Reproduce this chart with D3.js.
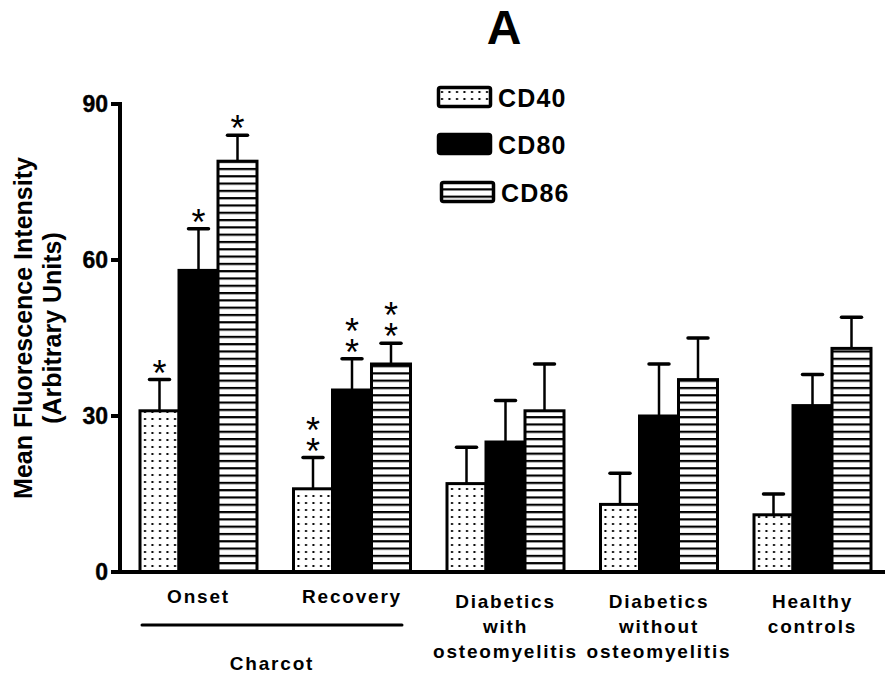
<!DOCTYPE html>
<html>
<head>
<meta charset="utf-8">
<script src="https://cdn.jsdelivr.net/npm/d3@7"></script>
<style>
  body { margin: 0; background: #fff; }
  text { font-family: "Liberation Sans", Arial, sans-serif; }
</style>
</head>
<body>
<div id="chart"></div>
<script>
// groups and their wrapped labels
const groups = ["Onset", "Recovery", "Diabetics with osteomyelitis", "Diabetics without osteomyelitis", "Healthy controls"];
const groupLabels = [["Onset"], ["Recovery"], ["Diabetics", "with", "osteomyelitis"], ["Diabetics", "without", "osteomyelitis"], ["Healthy", "controls"]];
const series = ["CD40", "CD80", "CD86"];

// mean values and upper error (SEM)
const cd40 = [31, 16, 17, 13, 11];
const cd80 = [58, 35, 25, 30, 32];
const cd86 = [79, 40, 31, 37, 43];
const cd40Err = [6, 6, 7, 6, 4];
const cd80Err = [8, 6, 8, 10, 6];
const cd86Err = [5, 4, 9, 8, 6];
// number of asterisks above each bar
const cd40Stars = [1, 2, 0, 0, 0];
const cd80Stars = [1, 2, 0, 0, 0];
const cd86Stars = [1, 2, 0, 0, 0];

const yTicks = [0, 30, 60, 90];

const values = { CD40: cd40, CD80: cd80, CD86: cd86 };
const errs = { CD40: cd40Err, CD80: cd80Err, CD86: cd86Err };
const stars = { CD40: cd40Stars, CD80: cd80Stars, CD86: cd86Stars };
const fills = { CD40: "url(#dots)", CD80: "#000", CD86: "url(#stripes)" };

const width = 885, height = 679;

const svg = d3.select("#chart").append("svg")
  .attr("width", width)
  .attr("height", height);

// patterns for the bar fills
const defs = svg.append("defs");
const dots = defs.append("pattern")
  .attr("id", "dots")
  .attr("patternUnits", "userSpaceOnUse")
  .attr("width", 7.5).attr("height", 7)
  .attr("x", 1).attr("y", 2);
dots.append("rect").attr("width", 7.5).attr("height", 7).attr("fill", "#fff");
dots.append("rect").attr("x", 3).attr("y", 3).attr("width", 2).attr("height", 2).attr("fill", "#000");

const stripes = defs.append("pattern")
  .attr("id", "stripes")
  .attr("patternUnits", "userSpaceOnUse")
  .attr("width", 10).attr("height", 7.3);
stripes.append("rect").attr("width", 10).attr("height", 7.3).attr("fill", "#fff");
stripes.append("rect").attr("y", 0).attr("width", 10).attr("height", 2.2).attr("fill", "#000");

// scales
const x0 = d3.scaleBand()
  .domain(groups)
  .range([121.75, 889.25])
  .paddingInner(0.2378)
  .paddingOuter(0.1189);

const x1 = d3.scaleBand()
  .domain(series)
  .range([0, x0.bandwidth()]);

const y = d3.scaleLinear().domain([0, 90]).range([572, 104]);

// title
svg.append("text")
  .text("A")
  .attr("x", 504)
  .attr("y", 44)
  .attr("text-anchor", "middle")
  .attr("font-weight", "bold")
  .attr("font-size", 48);

// bars
const gGroups = svg.selectAll("g.group")
  .data(groups)
  .enter().append("g")
  .attr("class", "group")
  .attr("transform", d => `translate(${x0(d)},0)`);

gGroups.each(function(g, gi) {
  const sel = d3.select(this);
  series.forEach(s => {
    const v = values[s][gi], e = errs[s][gi];
    const cx = x1(s) + x1.bandwidth() / 2;
    // error bar (upper only)
    sel.append("line")
      .attr("x1", cx).attr("x2", cx)
      .attr("y1", y(v)).attr("y2", y(v + e))
      .attr("stroke", "#000").attr("stroke-width", 2.5);
    sel.append("line")
      .attr("x1", cx - 10).attr("x2", cx + 10)
      .attr("y1", y(v + e)).attr("y2", y(v + e))
      .attr("stroke", "#000").attr("stroke-width", 3.5)
      .attr("stroke-linecap", "round");
    // asterisks, stacked in one text
    const n = stars[s][gi];
    if (n > 0) {
      const t = sel.append("text")
        .attr("text-anchor", "middle")
        .attr("font-size", 36);
      for (let k = 0; k < n; k++) {
        t.append("tspan")
          .attr("x", cx)
          .attr("y", y(v + e) - 15 - (n - 1 - k) * 21 + 21)
          .text("*");
      }
    }
  });
  series.forEach(s => {
    const v = values[s][gi];
    sel.append("rect")
      .attr("x", x1(s))
      .attr("y", y(v))
      .attr("width", x1.bandwidth())
      .attr("height", y(0) - y(v))
      .attr("fill", fills[s])
      .attr("stroke", "#000")
      .attr("stroke-width", 3);
  });
});

// axes
const yAxis = svg.append("g").attr("transform", "translate(120,0)");
yAxis.append("line")
  .attr("x1", 0).attr("x2", 0)
  .attr("y1", y(90) - 2).attr("y2", y(0) + 2)
  .attr("stroke", "#000").attr("stroke-width", 4);
yAxis.selectAll("line.tick")
  .data(yTicks)
  .enter().append("line")
  .attr("class", "tick")
  .attr("x1", -9).attr("x2", 0)
  .attr("y1", d => y(d)).attr("y2", d => y(d))
  .attr("stroke", "#000").attr("stroke-width", 4);
yAxis.selectAll("text.tick")
  .data(yTicks)
  .enter().append("text")
  .attr("class", "tick")
  .text(d => d)
  .attr("x", -12)
  .attr("y", d => y(d))
  .attr("dy", "0.36em")
  .attr("text-anchor", "end")
  .attr("font-weight", "bold")
  .attr("font-size", 23)
  .attr("stroke", "#000")
  .attr("stroke-width", 0.4);

svg.append("line")
  .attr("x1", 118).attr("x2", 885)
  .attr("y1", y(0)).attr("y2", y(0))
  .attr("stroke", "#000").attr("stroke-width", 4);

// y-axis title (two lines)
const yTitle = svg.append("text")
  .attr("transform", "translate(0,328) rotate(-90)")
  .attr("text-anchor", "middle")
  .attr("font-weight", "bold")
  .attr("font-size", 25);
yTitle.append("tspan").attr("x", 0).attr("y", 32).text("Mean Fluorescence Intensity");
yTitle.append("tspan").attr("x", 0).attr("y", 61).text("(Arbitrary Units)");

// x labels
svg.selectAll("text.xlabel")
  .data(groups)
  .enter().append("text")
  .attr("class", "xlabel")
  .attr("text-anchor", "middle")
  .attr("font-weight", "bold")
  .attr("font-size", 19)
  .attr("letter-spacing", 1.8)
  .each(function(d, i) {
    const lines = groupLabels[i];
    const base = lines.length > 1 ? 608 : 603;
    d3.select(this).selectAll("tspan")
      .data(lines)
      .enter().append("tspan")
      .attr("x", x0(d) + x0.bandwidth() / 2)
      .attr("y", (l, j) => base + j * 25)
      .text(l => l);
  });

// Charcot bracket
svg.append("line")
  .attr("x1", 142).attr("x2", 402)
  .attr("y1", 625).attr("y2", 625)
  .attr("stroke", "#000").attr("stroke-width", 3)
  .attr("stroke-linecap", "round");
svg.append("text")
  .text("Charcot")
  .attr("x", 272)
  .attr("y", 670)
  .attr("text-anchor", "middle")
  .attr("font-weight", "bold")
  .attr("font-size", 19)
  .attr("letter-spacing", 1.8);

// legend
const legendY = [86, 133, 181];
const legendX = [437, 437, 440];
const legend = svg.selectAll("g.legend")
  .data(series)
  .enter().append("g")
  .attr("class", "legend")
  .attr("transform", (d, i) => `translate(${legendX[i]},${legendY[i]})`);
legend.append("rect")
  .attr("x", 1.5).attr("y", 1.5)
  .attr("width", 52).attr("height", 19)
  .attr("rx", 2)
  .attr("fill", d => fills[d])
  .attr("stroke", "#000")
  .attr("stroke-width", 3.5);
legend.append("text")
  .text(d => d)
  .attr("x", 61)
  .attr("y", 21)
  .attr("font-weight", "bold")
  .attr("font-size", 25)
  .attr("letter-spacing", 1.2);
</script>
</body>
</html>
